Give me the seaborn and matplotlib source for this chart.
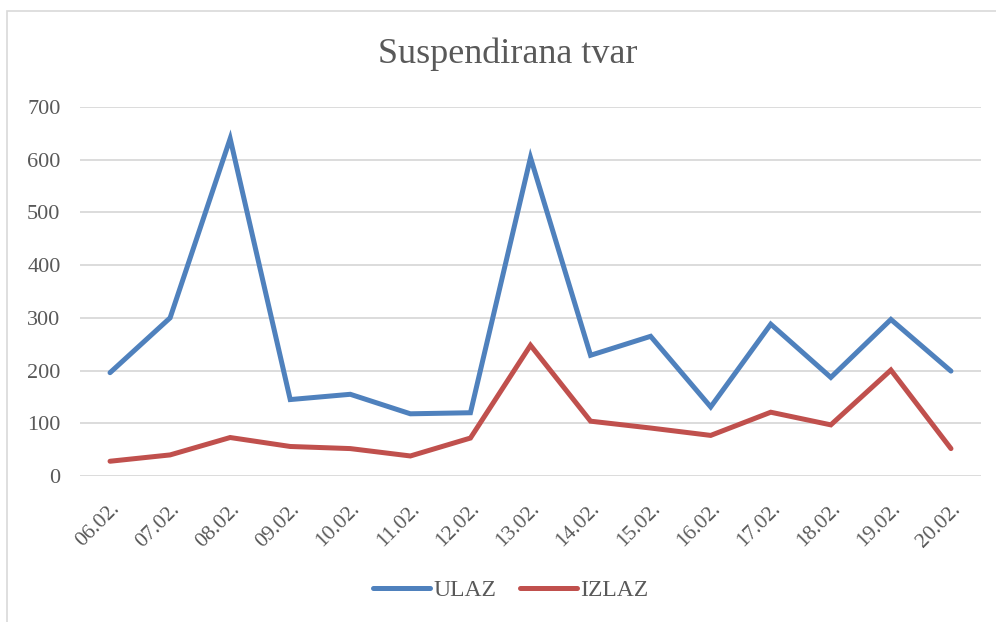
import matplotlib
matplotlib.use("Agg")
import matplotlib.pyplot as plt
import seaborn as sns
import pandas as pd
from matplotlib.patches import Rectangle

dates = ["06.02.", "07.02.", "08.02.", "09.02.", "10.02.", "11.02.", "12.02.",
         "13.02.", "14.02.", "15.02.", "16.02.", "17.02.", "18.02.", "19.02.", "20.02."]
ulaz = [196, 300, 640, 145, 155, 118, 120, 604, 229, 265, 131, 288, 187, 297, 199]
izlaz = [28, 40, 73, 56, 52, 38, 72, 248, 104, 91, 77, 121, 97, 201, 52]
yticks = [0, 100, 200, 300, 400, 500, 600, 700]

df = pd.DataFrame({
    "datum": dates * 2,
    "pos": list(range(len(dates))) * 2,
    "vrijednost": ulaz + izlaz,
    "serija": ["ULAZ"] * len(dates) + ["IZLAZ"] * len(dates),
})

sns.set_theme(style="white")
plt.rcParams["font.family"] = ["Liberation Serif", "DejaVu Serif"]
txt = "#595959"

fig = plt.figure(figsize=(9.96, 6.22), dpi=100)
ax = fig.add_axes([80 / 996, 1 - 476 / 622, 901 / 996, 369 / 622])

sns.lineplot(data=df, x="pos", y="vrijednost", hue="serija",
             palette={"ULAZ": "#4F81BD", "IZLAZ": "#C0504D"},
             linewidth=3.6, ax=ax, sort=False, legend=True,
             solid_capstyle="round", solid_joinstyle="miter")

ax.set_xlim(-0.5, len(dates) - 0.5)
ax.set_ylim(0, 700)
ax.set_yticks(yticks)
ax.set_yticklabels([str(v) for v in yticks], fontsize=16, color=txt)
ax.set_xticks(range(len(dates)))
ax.set_xticklabels(dates, rotation=45, ha="right", rotation_mode="anchor",
                   fontsize=15.5, color=txt)
ax.tick_params(axis="both", length=0)
ax.tick_params(axis="y", pad=14)
ax.tick_params(axis="x", pad=17)
ax.yaxis.grid(True, color="#d9d9d9", linewidth=1.3)
ax.set_axisbelow(True)
for s in ax.spines.values():
    s.set_visible(False)
ax.set_xlabel("")
ax.set_ylabel("")

fig.text(508 / 996, 1 - 54 / 622, "Suspendirana tvar", ha="center", va="center",
         fontsize=26, color=txt)

handles, labels = ax.get_legend_handles_labels()
ax.legend(handles, labels, loc="center", bbox_to_anchor=(511 / 996, 1 - 590 / 622),
          bbox_transform=fig.transFigure, ncol=2, frameon=False,
          fontsize=17, labelcolor=txt, handlelength=2.4, handletextpad=0.15,
          columnspacing=1.0, borderpad=0, borderaxespad=0)

fig.patches.append(Rectangle((7 / 996, -0.05), 1.2, 1.05 - 11 / 622 + 0.0,
                             transform=fig.transFigure, fill=False,
                             edgecolor="#d9d9d9", linewidth=1.2))

fig.savefig("out.png", dpi=100, facecolor="white")
